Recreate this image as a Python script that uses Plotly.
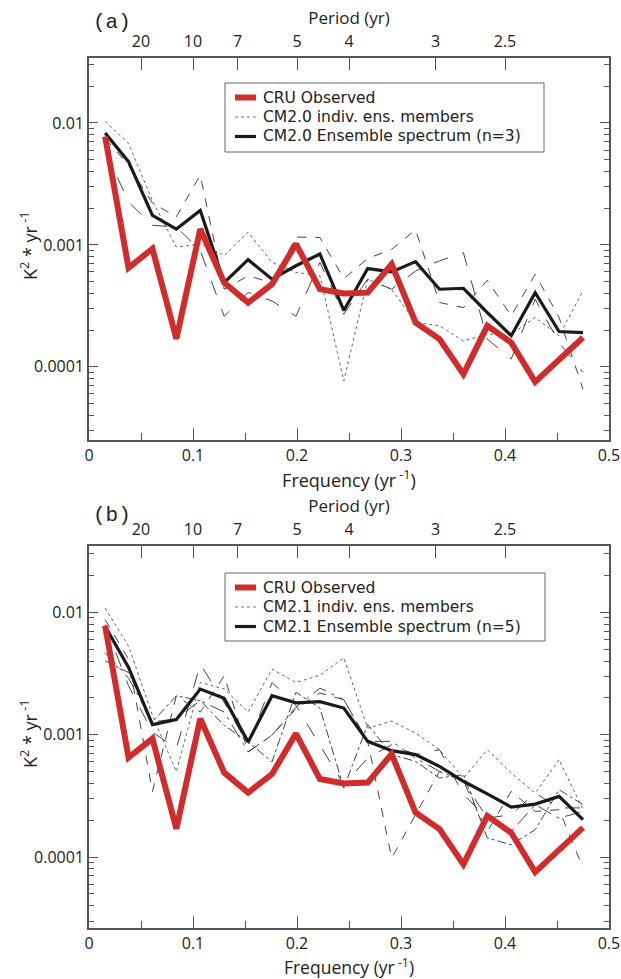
import plotly.graph_objects as go

# ---------------- data ----------------
freq = [0.0155, 0.038, 0.061, 0.084, 0.107, 0.130, 0.153, 0.176, 0.199, 0.222, 0.245,
        0.268, 0.291, 0.314, 0.337, 0.360, 0.383, 0.406, 0.429, 0.452, 0.475]

cru_obs = [0.00776, 0.00065, 0.00093, 0.00017, 0.00135, 0.00049, 0.000336, 0.000477, 0.00102,
           0.000434, 0.000399, 0.000406, 0.000694, 0.000231, 0.000169, 0.0000871, 0.000217,
           0.000158, 0.0000753, 0.000116, 0.000174]

cm20_ens = [0.00827, 0.00482, 0.00175, 0.00135, 0.00192, 0.00049, 0.000757, 0.000524, 0.000675,
            0.000843, 0.00029, 0.00064, 0.000601, 0.00073, 0.000433, 0.000441, 0.000279,
            0.00018, 0.000406, 0.000195, 0.000191]

cm20_m1 = [0.0103, 0.0068, 0.0023, 0.00096, 0.00102, 0.00082, 0.00127, 0.00072, 0.000594,
           0.00056, 0.0000768, 0.000524, 0.000433, 0.000231, 0.000217, 0.000163, 0.000185,
           0.000185, 0.000254, 0.00018, 0.00042]
cm20_m2 = [0.0075, 0.0045, 0.0022, 0.0017, 0.00374, 0.000433, 0.000558, 0.00049, 0.00116,
           0.00115, 0.00053, 0.000773, 0.00092, 0.00133, 0.000337, 0.000306, 0.000513,
           0.000262, 0.000575, 0.000254, 0.0000656]
cm20_m3 = [0.006, 0.00225, 0.00145, 0.0014, 0.0009, 0.00026, 0.000407, 0.000347, 0.00026,
           0.00072, 0.00027, 0.000524, 0.000433, 0.000612, 0.00074, 0.000865, 0.000169,
           0.000116, 0.000359, 0.000158, 0.00009]

cm21_ens = [0.0077, 0.00354, 0.00121, 0.00133, 0.00236, 0.00198, 0.000873, 0.00208, 0.00182,
            0.00186, 0.00165, 0.000882, 0.00074, 0.000687, 0.000551, 0.000416, 0.000328,
            0.000256, 0.000271, 0.000313, 0.000202]

cm21_mA = [0.0108, 0.0053, 0.00144, 0.000498, 0.00267, 0.00236, 0.00153, 0.00343, 0.00267,
           0.00306, 0.00424, 0.00113, 0.00129, 0.00103, 0.000754, 0.000442, 0.000754,
           0.000486, 0.000334, 0.000625, 0.000244]
cm21_mB = [0.00873, 0.00413, 0.000343, 0.00208, 0.00153, 0.00303, 0.000723, 0.00099, 0.00163,
           0.00219, 0.00193, 0.000882, 0.0000982, 0.000222, 0.000501, 0.000416, 0.000162,
           0.000344, 0.000236, 0.000244, 0.0000813]
cm21_mC = [0.00401, 0.00322, 0.00127, 0.00208, 0.0019, 0.00119, 0.000873, 0.0006, 0.00222,
           0.00165, 0.000366, 0.00121, 0.000687, 0.000605, 0.000442, 0.000471, 0.000143,
           0.000126, 0.000167, 0.000355, 0.000268]
cm21_mD = [0.00794, 0.00251, 0.00105, 0.000769, 0.00377, 0.00184, 0.00082, 0.00267, 0.00173,
           0.000828, 0.00039, 0.000644, 0.000828, 0.000687, 0.000754, 0.000324, 0.000208,
           0.000222, 0.000334, 0.000252, 0.000252]
cm21_mE = [0.00467, 0.0029, 0.00127, 0.00135, 0.0019, 0.00153, 0.000723, 0.00099, 0.00168,
           0.0024, 0.00193, 0.000882, 0.000882, 0.000644, 0.000501, 0.000416, 0.000208,
           0.000162, 0.000268, 0.000208, 0.000236]

freq_ticks = [0, 0.1, 0.2, 0.3, 0.4, 0.5]
freq_labels = ["0", "0.1", "0.2", "0.3", "0.4", "0.5"]
periods = [20, 10, 7, 5, 4, 3, 2.5]
period_labels = ["20", "10", "7", "5", "4", "3", "2.5"]
y_ticks = [0.01, 0.001, 0.0001]
y_labels = ["0.01", "0.001", "0.0001"]

legend_a = ["CRU Observed", "CM2.0 indiv. ens. members", "CM2.0 Ensemble spectrum (n=3)"]
legend_b = ["CRU Observed", "CM2.1 indiv. ens. members", "CM2.1 Ensemble spectrum (n=5)"]

# ---------------- style ----------------
W, H = 621, 979
FONT = "Open Sans"
LEGFONT = "DejaVu Sans"
TXT = "#222"
AX = "#555"
RED = "#d02c2c"
BLK = "#1a1a1a"
MEM = "#444"

fig = go.Figure()


def add_members(members, dashes, xa, ya):
    for m, d in zip(members, dashes):
        fig.add_trace(go.Scatter(
            x=freq, y=m, mode="lines", xaxis=xa, yaxis=ya, showlegend=False,
            line=dict(color="#666" if d == "dot" else MEM, width=1, dash=d)))


add_members([cm20_m1, cm20_m2, cm20_m3], ["dot", "dash", "longdash"], "x", "y")
fig.add_trace(go.Scatter(x=freq, y=cm20_ens, mode="lines", xaxis="x", yaxis="y",
                         line=dict(color=BLK, width=3.2), showlegend=False,
                         name=legend_a[2]))
fig.add_trace(go.Scatter(x=freq, y=cru_obs, mode="lines", xaxis="x", yaxis="y",
                         line=dict(color=RED, width=6), showlegend=False, name=legend_a[0]))

add_members([cm21_mA, cm21_mB, cm21_mC, cm21_mD, cm21_mE],
            ["dot", "dash", "dashdot", "longdash", "longdashdot"], "x2", "y2")
fig.add_trace(go.Scatter(x=freq, y=cm21_ens, mode="lines", xaxis="x2", yaxis="y2",
                         line=dict(color=BLK, width=3.2), showlegend=False,
                         name=legend_b[2]))
fig.add_trace(go.Scatter(x=freq, y=cru_obs, mode="lines", xaxis="x2", yaxis="y2",
                         line=dict(color=RED, width=6), showlegend=False, name=legend_b[0]))

# invisible traces to carry the top (period) axes
for xa, ya in [("x3", "y"), ("x4", "y2")]:
    fig.add_trace(go.Scatter(x=[0.25], y=[0.001], xaxis=xa, yaxis=ya, mode="markers",
                             marker=dict(opacity=0), showlegend=False, hoverinfo="skip"))

# ---------------- layout (pixel based) ----------------
L, R = 89, 609
xdom = [L / W, R / W]
PA = (58, 440)   # panel (a) top / bottom in pixels
PB = (546, 928)  # panel (b) top / bottom in pixels


def ydom(top, bot):
    return [1 - bot / H, 1 - top / H]


minor_x = [0.05, 0.15, 0.25, 0.35, 0.45]
minor_y = [m * 10 ** e for e in (-5, -4, -3, -2) for m in range(2, 10)]


def bottom_axis(anchor, standoff, tsize):
    return dict(domain=xdom, anchor=anchor, range=[0, 0.5], tickvals=freq_ticks,
                ticktext=freq_labels, ticks="inside", ticklen=12, tickwidth=1.3, tickcolor=AX,
                minor=dict(tickvals=minor_x, ticks="inside", ticklen=7, tickwidth=1.3,
                           tickcolor=AX),
                showline=True, linecolor=AX, linewidth=1.6, showgrid=False, zeroline=False,
                automargin=False,
                tickfont=dict(size=16, color=TXT, family=FONT),
                title=dict(text="Frequency (yr<sup> -1</sup>)", standoff=standoff,
                           font=dict(size=tsize, color=TXT, family=FONT)))


def top_axis(over, anchor):
    return dict(overlaying=over, anchor=anchor, side="top", range=[0, 0.5],
                tickvals=[1 / p for p in periods], ticktext=period_labels,
                ticks="inside", ticklen=12, tickwidth=1.3, tickcolor=AX,
                ticklabelstandoff=3,
                showline=True, linecolor=AX, linewidth=1.6, showgrid=False, zeroline=False,
                automargin=False,
                tickfont=dict(size=16, color=TXT, family=FONT),
                title=dict(text="Period (yr)", standoff=1,
                           font=dict(size=17, color=TXT, family=FONT)))


def y_axis(dom, rng, anchor):
    return dict(domain=dom, anchor=anchor, type="log", range=rng, tickvals=y_ticks,
                ticktext=y_labels, ticks="inside", ticklen=9, tickwidth=1.3, tickcolor=AX,
                minor=dict(tickvals=minor_y, ticks="inside", ticklen=5, tickwidth=1.2,
                           tickcolor=AX),
                showline=True, linecolor=AX, linewidth=1.6, mirror="ticks",
                showgrid=False, zeroline=False, automargin=False,
                tickfont=dict(size=16, color=TXT, family=FONT))


def px(x):
    return x / W


def py(y):
    return 1 - y / H


shapes = []
annotations = []


def manual_legend(labels, left, right, top, bottom, rows):
    shapes.append(dict(type="rect", xref="paper", yref="paper",
                       x0=px(left), x1=px(right), y0=py(bottom), y1=py(top),
                       line=dict(color="#666", width=1), fillcolor="white", layer="above"))
    styles = [dict(color=RED, width=6), dict(color="#777", width=1, dash="dot"),
              dict(color=BLK, width=3.2)]
    for lab, yr, st in zip(labels, rows, styles):
        shapes.append(dict(type="line", xref="paper", yref="paper",
                           x0=px(left + 10), x1=px(left + 31), y0=py(yr), y1=py(yr),
                           line=st, layer="above"))
        annotations.append(dict(text=lab, x=px(left + 37), y=py(yr), xref="paper",
                                yref="paper", xanchor="left", yanchor="middle",
                                showarrow=False, borderpad=0,
                                font=dict(size=15.5, color=TXT, family=LEGFONT)))


manual_legend(legend_a, 225, 544, 83, 152, [97.5, 117, 136.5])
manual_legend(legend_b, 225, 545, 573, 641, [587.5, 607, 626.5])

annotations += [
    dict(text="(a)", x=px(112), y=py(23), xref="paper", yref="paper",
         xanchor="center", yanchor="middle",
         showarrow=False, font=dict(size=21, family="Liberation Mono", color=TXT)),
    dict(text="(b)", x=px(112), y=py(515), xref="paper", yref="paper",
         xanchor="center", yanchor="middle",
         showarrow=False, font=dict(size=21, family="Liberation Mono", color=TXT)),
]
for top, bot in (PA, PB):
    annotations.append(dict(text="K<sup>2</sup> * yr<sup> -1</sup>", x=px(29),
                            y=py((top + bot) / 2 - 3), xref="paper", yref="paper",
                            xanchor="center", yanchor="middle", textangle=-90,
                            showarrow=False, font=dict(size=18, color=TXT, family=FONT)))

fig.update_layout(
    width=W, height=H, margin=dict(l=0, r=0, t=0, b=0),
    paper_bgcolor="white", plot_bgcolor="white",
    font=dict(family=FONT, color=TXT),
    showlegend=False,
    xaxis=bottom_axis("y", 7, 18),
    xaxis2=bottom_axis("y2", 9, 17.5),
    xaxis3=top_axis("x", "y"),
    xaxis4=top_axis("x2", "y2"),
    yaxis=y_axis(ydom(*PA), [-4.6, -1.467], "x"),
    yaxis2=y_axis(ydom(*PB), [-4.58, -1.458], "x2"),
    shapes=shapes,
    annotations=annotations,
)

fig.write_html("out.html")
